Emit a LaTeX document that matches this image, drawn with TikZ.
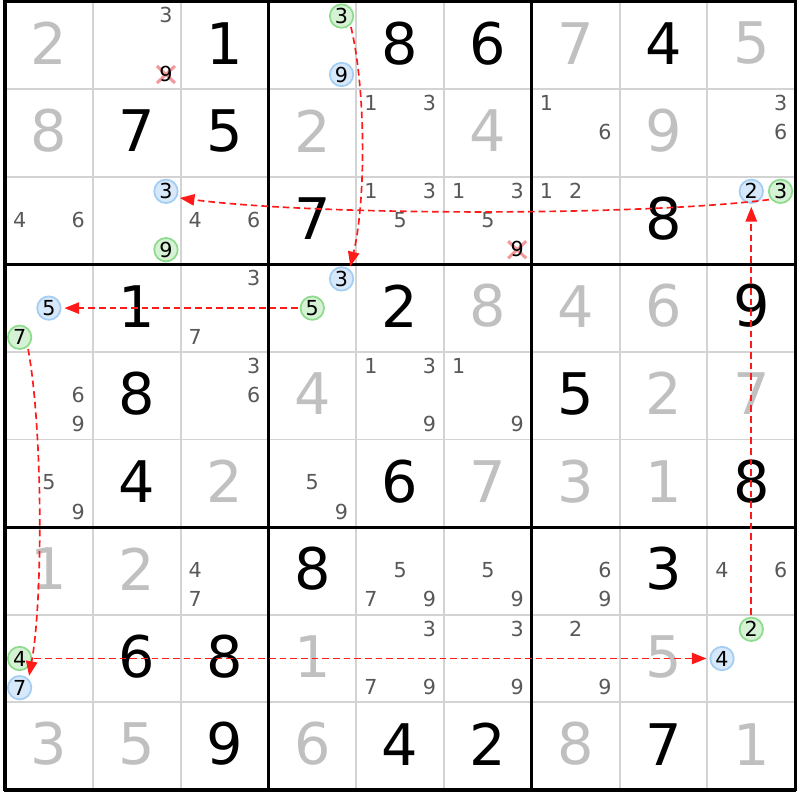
\documentclass[tikz,border=0pt]{standalone}
\usepackage{fontspec}
\setmainfont{DejaVu Sans}
\usetikzlibrary{arrows.meta}
\definecolor{gridgray}{HTML}{D3D3D3}
\definecolor{givengray}{HTML}{C0C0C0}
\definecolor{candgray}{HTML}{585858}
\definecolor{bluefill}{HTML}{D6E8FA}
\definecolor{blueline}{HTML}{A4CDF4}
\definecolor{greenfill}{HTML}{D5F2D5}
\definecolor{greenline}{HTML}{8EDB8E}
\definecolor{linkred}{HTML}{FF1A1A}
\definecolor{crosspink}{HTML}{F29A9A}
\tikzset{
  thinline/.style={gridgray,line width=1.4pt},
  boxline/.style={black,line width=2.4pt},
  bignum/.style={inner sep=0pt,font=\fontsize{43}{43}\selectfont},
  blackdig/.style={bignum,text=black},
  graydig/.style={bignum,text=givengray},
  candnum/.style={inner sep=0pt,font=\fontsize{15.5}{15.5}\selectfont,text=candgray},
  bluec/.style={circle,inner sep=0pt,minimum size=17.6pt,fill=bluefill,draw=blueline,line width=1.3pt,font=\fontsize{15.5}{15.5}\selectfont,text=black},
  greenc/.style={circle,inner sep=0pt,minimum size=17.6pt,fill=greenfill,draw=greenline,line width=1.3pt,font=\fontsize{15.5}{15.5}\selectfont,text=black},
  crossline/.style={crosspink,line width=2.3pt},
  link/.style={linkred,line width=1.25pt,dash pattern=on 5pt off 3pt,shorten <=1.5pt,shorten >=2.2pt,-{Triangle[length=11pt,width=8.5pt]}}
}
\begin{document}
\begin{tikzpicture}[x=0.75pt,y=-0.75pt]
\useasboundingbox (0,0) rectangle (800,800);
\fill[white] (0,0) rectangle (800,800);
% thin grid
\foreach \i in {1,2,4,5,7,8}{
  \draw[thinline] ({5+\i*87.8},1.5) -- ({5+\i*87.8},789.9);
  \draw[thinline] (5,{1.5+\i*87.6}) -- (795.2,{1.5+\i*87.6});
}
% box lines
\foreach \i in {0,3,6,9}{
  \draw[boxline] ({5+\i*87.8},0.3) -- ({5+\i*87.8},791.1);
  \draw[boxline] (3.8,{1.5+\i*87.6}) -- (796.4,{1.5+\i*87.6});
}
% big digits
\foreach \r/\c/\d in {1/3/1,1/5/8,1/6/6,1/8/4,2/2/7,2/3/5,3/4/7,3/8/8,4/2/1,4/5/2,4/9/9,5/2/8,5/7/5,6/2/4,6/5/6,6/9/8,7/4/8,7/8/3,8/2/6,8/3/8,9/3/9,9/5/4,9/6/2,9/8/7}
  \node[blackdig] (v\r\c) at ({5+(\c-0.5)*87.8},{1.5+(\r-0.5)*87.6-2}) {\d};
\foreach \r/\c/\d in {1/1/2,1/7/7,1/9/5,2/1/8,2/4/2,2/6/4,2/8/9,4/6/8,4/7/4,4/8/6,5/4/4,5/8/2,5/9/7,6/3/2,6/6/7,6/7/3,6/8/1,7/1/1,7/2/2,8/4/1,8/8/5,9/1/3,9/2/5,9/4/6,9/7/8,9/9/1}
  \node[graydig] (v\r\c) at ({5+(\c-0.5)*87.8},{1.5+(\r-0.5)*87.6-2}) {\d};
% plain candidates
\foreach \r/\c/\n in {1/2/3,2/5/1,2/5/3,2/7/1,2/7/6,2/9/3,2/9/6,3/1/4,3/1/6,3/3/4,3/3/6,3/5/1,3/5/3,3/5/5,3/6/1,3/6/3,3/6/5,3/7/1,3/7/2,4/3/3,4/3/7,5/1/6,5/1/9,5/3/3,5/3/6,5/5/1,5/5/3,5/5/9,5/6/1,5/6/9,6/1/5,6/1/9,6/4/5,6/4/9,7/3/4,7/3/7,7/5/5,7/5/7,7/5/9,7/6/5,7/6/9,7/7/6,7/7/9,7/9/4,7/9/6,8/5/3,8/5/7,8/5/9,8/6/3,8/6/9,8/7/2,8/7/9}
  \node[candnum] (k\r\c\n) at ({5+(\c-1)*87.8+(mod(\n-1,3)+0.5)*29.2667},{1.5+(\r-1)*87.6+(floor((\n-1)/3)+0.5)*29.2-0.8}) {\n};
% eliminated candidates
\foreach \r/\c/\n in {1/2/9,3/6/9}{
  \coordinate (p\r\c\n) at ({5+(\c-1)*87.8+(mod(\n-1,3)+0.5)*29.2667},{1.5+(\r-1)*87.6+(floor((\n-1)/3)+0.5)*29.2});
  \draw[crossline] ([shift={(-9,-8.5)}]p\r\c\n) -- ([shift={(9,8.5)}]p\r\c\n)
                   ([shift={(-9,8.5)}]p\r\c\n) -- ([shift={(9,-8.5)}]p\r\c\n);
  \node[candnum,text=black] (x\r\c\n) at ([yshift=0.6pt]p\r\c\n) {\n};
}
% circled candidates
\foreach \r/\c/\n in {1/4/9,3/2/3,3/9/2,4/1/5,4/4/3,8/1/7,8/9/4}
  \node[bluec] (bluec\r\c\n) at ({5+(\c-1)*87.8+(mod(\n-1,3)+0.5)*29.2667},{1.5+(\r-1)*87.6+(floor((\n-1)/3)+0.5)*29.2}) {\n};
\foreach \r/\c/\n in {1/4/3,3/2/9,3/9/3,4/1/7,4/4/5,8/1/4,8/9/2}
  \node[greenc] (greenc\r\c\n) at ({5+(\c-1)*87.8+(mod(\n-1,3)+0.5)*29.2667},{1.5+(\r-1)*87.6+(floor((\n-1)/3)+0.5)*29.2}) {\n};
% links
\draw[link] (greenc143.-45) .. controls (366,90) and (366,200) .. (bluec443.50);
\draw[link] (greenc393.-140) .. controls (640,216) and (320,216) .. (bluec323.-30);
\draw[link] (greenc892) -- (bluec392);
\draw[link] (greenc445) -- (bluec415);
\draw[link] (greenc417.-50) .. controls (43,430) and (43,600) .. (bluec817.45);
\draw[link] (greenc814) -- (bluec894);
\end{tikzpicture}
\end{document}
